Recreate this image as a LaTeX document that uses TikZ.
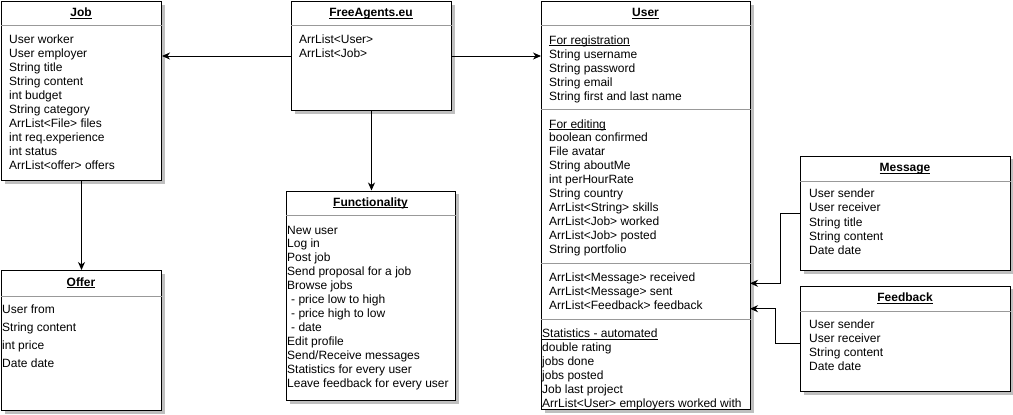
\documentclass[tikz,border=0pt]{standalone}
\usepackage{fontspec}
\setmainfont{Liberation Sans}
\usetikzlibrary{arrows.meta,shadows}
\newcommand\members[5]{\foreach \t [count=\i] in {#5} \node[member] (#1-\i) at (#2,{#3+#4*(\i-1)}) {\t};}
\newcommand\uln[1]{\underline{\raisebox{0pt}[\height][0pt]{#1}}}

\tikzset{
  classbox/.style={draw=black, fill=white, line width=1bp, anchor=north west, inner sep=0pt,
    drop shadow={shadow xshift=3bp, shadow yshift=-3bp, fill=black!25, opacity=1}},
  classname/.style={font=\fontsize{12bp}{14bp}\selectfont\bfseries, inner sep=0pt, text height=8.6bp, text depth=2.6bp},
  member/.style={anchor=west, inner sep=0pt, text height=8.6bp, text depth=2.6bp},
  sepline/.style={draw=black!40, line width=1bp},
  assoc/.style={line width=1bp, -{Stealth[length=8bp, width=7bp, inset=2.5bp]}},
}

\begin{document}
\begin{tikzpicture}[x=1bp, y=-1bp, font=\fontsize{12bp}{14bp}\selectfont]
		%%%%% START %%%%%
		\path[use as bounding box, fill=white] (0,0) rectangle (1013,414);
		
		\node[classbox, minimum width=160bp, minimum height=179bp] (job) at (1,1) {};
		\node[classname] (job-t) at (81,13.5) {\uln{Job}};
		\draw[sepline] (job.west |- 0,25) -- (job.east |- 0,25);
		\members{job}{9}{40.5}{14}{User worker, User employer, String title, String content, int budget, String category, ArrList<File> files, int req.experience, int status, ArrList<offer> offers}
		
		\node[classbox, minimum width=160bp, minimum height=140bp] (offer) at (1,270) {};
		\node[classname] (offer-t) at (81,283) {\uln{Offer}};
		\draw[sepline] (offer.west |- 0,296) -- (offer.east |- 0,296);
		\members{offer}{2}{310.5}{18.1}{User from, String content, int price, Date date}
		
		\node[classbox, minimum width=160bp, minimum height=109bp] (fa) at (291,1) {};
		\node[classname] (fa-t) at (371,13.5) {\uln{FreeAgents.eu}};
		\draw[sepline] (fa.west |- 0,25) -- (fa.east |- 0,25);
		\members{fa}{299}{40.5}{14}{ArrList<User>, ArrList<Job>}
		
		\node[classbox, minimum width=169bp, minimum height=209.5bp] (func) at (286,190.5) {};
		\node[classname] (func-t) at (370.5,203) {\uln{Functionality}};
		\draw[sepline] (func.west |- 0,215.5) -- (func.east |- 0,215.5);
		\members{func}{287}{231}{13.95}{New user, Log in, Post job, Send proposal for a job, Browse jobs,
		  {\hspace{4bp}- price low to high}, {\hspace{4bp}- price high to low}, {\hspace{4bp}- date},
		  Edit profile, Send/Receive messages, Statistics for every user, Leave feedback for every user}
		
		\node[classbox, minimum width=209bp, minimum height=408bp] (user) at (541,1) {};
		\node[classname] (user-t) at (645.5,13.5) {\uln{User}};
		\draw[sepline] (user.west |- 0,25) -- (user.east |- 0,25);
		\members{reg}{549}{41}{14}{\uln{For registration}, String username, String password, String email, String first and last name}
		\draw[sepline] (user.west |- 0,109.5) -- (user.east |- 0,109.5);
		\members{edit}{549}{125}{13.9}{\uln{For editing}, boolean confirmed, File avatar, String aboutMe, int perHourRate,
		  String country, ArrList<String> skills, ArrList<Job> worked, ArrList<Job> posted, String portfolio}
		\draw[sepline] (user.west |- 0,263.5) -- (user.east |- 0,263.5);
		\members{lists}{549}{278}{14}{ArrList<Message> received, ArrList<Message> sent, ArrList<Feedback> feedback}
		\draw[sepline] (user.west |- 0,319.5) -- (user.east |- 0,319.5);
		\members{stats}{542}{334.3}{14}{\uln{Statistics - automated}, double rating, jobs done, jobs posted, Job last project, ArrList<User> employers worked with}
		
		\node[classbox, minimum width=210bp, minimum height=114.5bp] (msg) at (800,155.5) {};
		\node[classname] (msg-t) at (905,168.3) {\uln{Message}};
		\draw[sepline] (msg.west |- 0,181) -- (msg.east |- 0,181);
		\members{msg}{809}{194.7}{14.2}{User sender, User receiver, String title, String content, Date date}
		
		\node[classbox, minimum width=210bp, minimum height=105.5bp] (fb) at (800,285.5) {};
		\node[classname] (fb-t) at (905,298.3) {\uln{Feedback}};
		\draw[sepline] (fb.west |- 0,311) -- (fb.east |- 0,311);
		\members{fb}{809}{325}{14.2}{User sender, User receiver, String content, Date date}
		
		%%%%% CONNECTORS %%%%%
		\coordinate (user-msg) at (750,283.3);
		\coordinate (user-fb) at (750,308.7);
		\draw[assoc] (fa.west) -- (fa.west -| job.east);
		\draw[assoc] (fa.east) -- (fa.east -| user.west);
		\draw[assoc] (fa.south) -- (fa.south |- func.north);
		\draw[assoc] (job.south) -- (offer.north);
		\draw[assoc] (msg.west) -- ++(-19.7,0) |- (user-msg);
		\draw[assoc] ([yshift=-4.5bp]fb.west) -- ++(-24.7,0) |- (user-fb);
		%%%%% END %%%%%
	\end{tikzpicture}
\end{document}
